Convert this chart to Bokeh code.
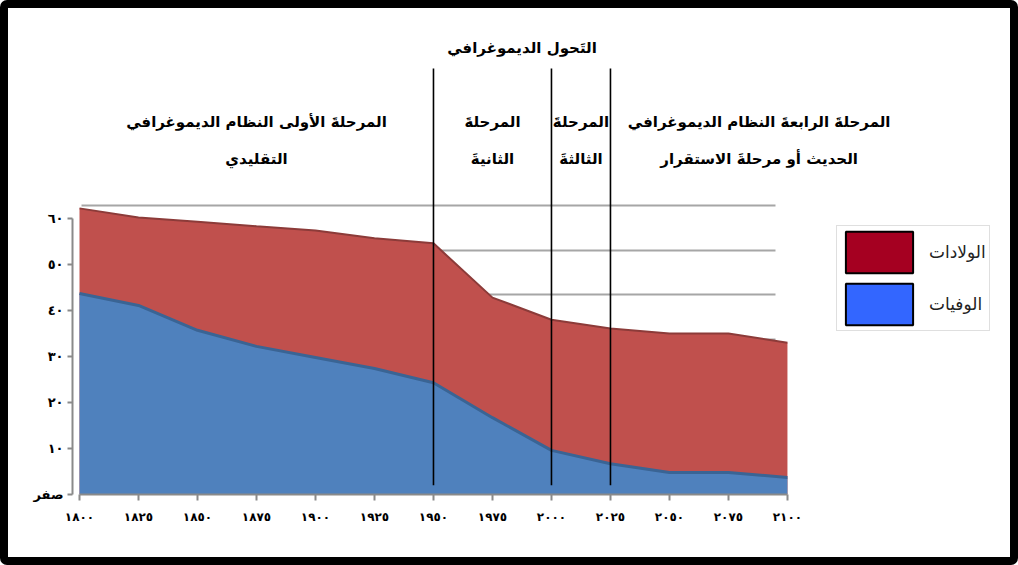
from bokeh.plotting import figure
from bokeh.models import Range1d, FixedTicker, Grid, Legend, LegendItem, Label
from bokeh.embed import file_html
from bokeh.resources import INLINE

# ---- data ----
years = [1800, 1825, 1850, 1875, 1900, 1925, 1950, 1975, 2000, 2025, 2050, 2075, 2100]
births = [62.2, 60.2, 59.3, 58.3, 57.4, 55.7, 54.6, 42.8, 38.0, 36.1, 35.0, 35.0, 33.0]
deaths = [43.7, 41.1, 35.7, 32.2, 29.8, 27.4, 24.3, 16.7, 9.6, 6.7, 4.8, 4.8, 3.7]

x_ticks = [1800, 1825, 1850, 1875, 1900, 1925, 1950, 1975, 2000, 2025, 2050, 2075, 2100]
x_labels = ["١٨٠٠", "١٨٢٥", "١٨٥٠", "١٨٧٥", "١٩٠٠", "١٩٢٥", "١٩٥٠",
            "١٩٧٥", "٢٠٠٠", "٢٠٢٥", "٢٠٥٠", "٢٠٧٥", "٢١٠٠"]
y_ticks = [0, 10, 20, 30, 40, 50, 60]
y_labels = ["صفر", "١٠", "٢٠", "٣٠", "٤٠", "٥٠", "٦٠"]

series_names = ["الولادات", "الوفيات"]
phase_bounds = [1950, 2000, 2025]
title_text = "التَحول الديموغرافي"
phase_texts = [
    ("المرحلةَ الأولى النظام الديموغرافي", "التقليدي"),
    ("المرحلةَ", "الثانيةَ"),
    ("المرحلةَ", "الثالثةَ"),
    ("المرحلةَ الرابعةَ النظام الديموغرافي", "الحديث أو مرحلةَ الاستقرار"),
]
phase_centers = [1875, 1975, 2012.5, 2088]
title_center = 1987.5

FONT = "DejaVu Sans"
NAN = float("nan")

p = figure(width=1018, height=565, output_backend="svg", toolbar_location=None,
           x_range=Range1d(1797.03, 2192.4), y_range=Range1d(0, 100.87),
           min_border_left=72, min_border_right=13, min_border_top=30, min_border_bottom=71)
p.outline_line_color = None
p.background_fill_color = "white"
p.border_fill_color = None
p.xgrid.visible = False
p.ygrid.visible = False
# black picture frame around the whole chart (shows through the transparent border area)
p.styles = {"background-color": "white",
            "box-shadow": "inset 0 0 0 8px black",
            "border-radius": "7px"}

# back-wall grid
p.extra_y_ranges = {"back": Range1d(-4.94, 99.33)}
g = Grid(dimension=1, ticker=FixedTicker(ticks=y_ticks), y_range_name="back",
         cross_bounds=(1801, 2095), grid_line_color="#A6A6A6", grid_line_width=2)
p.add_layout(g)

# areas
p.varea(x=years, y1=0, y2=births, fill_color="#C0504D")
p.line(years, births, line_color="#8C3B39", line_width=2)
p.varea(x=years, y1=0, y2=deaths, fill_color="#4F81BD")
p.line(years, deaths, line_color="#3A6494", line_width=3)

# phase boundaries
p.segment(x0=phase_bounds, y0=2, x1=phase_bounds, y1=92.6, line_color="black", line_width=1.6)

# texts
p.add_layout(Label(x=title_center, y=97.0, text=title_text, text_align="center",
                   text_baseline="middle", text_font=FONT, text_font_size="15px",
                   text_font_style="bold", text_color="black"))
for cx, (l1, l2) in zip(phase_centers, phase_texts):
    p.add_layout(Label(x=cx, y=80.9, text=l1, text_align="center", text_baseline="middle",
                       text_font=FONT, text_font_size="15px", text_font_style="bold",
                       text_color="black"))
    p.add_layout(Label(x=cx, y=73.0, text=l2, text_align="center", text_baseline="middle",
                       text_font=FONT, text_font_size="15px", text_font_style="bold",
                       text_color="black"))

# axes
p.xaxis.ticker = FixedTicker(ticks=x_ticks)
p.xaxis.major_label_overrides = {t: l for t, l in zip(x_ticks, x_labels)}
p.xaxis.bounds = (1800, 2100)
p.yaxis.ticker = FixedTicker(ticks=y_ticks)
p.yaxis.major_label_overrides = {t: l for t, l in zip(y_ticks, y_labels)}
p.yaxis.bounds = (0, 60)
for ax in (p.xaxis, p.yaxis):
    ax.axis_line_color = "#8A8A8A"
    ax.axis_line_width = 2
    ax.major_tick_line_color = "#8A8A8A"
    ax.major_tick_line_width = 2
    ax.minor_tick_line_color = None
    ax.major_tick_in = 0
    ax.major_label_text_font = FONT
    ax.major_label_text_font_style = "bold"
    ax.major_label_text_color = "black"
p.xaxis.major_tick_out = 6
p.xaxis.major_label_standoff = 9
p.xaxis.major_label_text_font_size = "12px"
p.yaxis.major_tick_out = 5
p.yaxis.major_label_standoff = 4
p.yaxis.major_label_text_font_size = "13px"

# legend
r_b = p.quad(left=[NAN], right=[NAN], top=[NAN], bottom=[NAN],
             fill_color="#A50021", line_color="black", line_width=2)
r_d = p.quad(left=[NAN], right=[NAN], top=[NAN], bottom=[NAN],
             fill_color="#3366FF", line_color="black", line_width=2)
legend = Legend(items=[LegendItem(label=series_names[0], renderers=[r_b]),
                       LegendItem(label=series_names[1], renderers=[r_d])],
                location=(764, 163), orientation="vertical",
                glyph_width=84, glyph_height=52, label_standoff=8, label_width=60,
                padding=0, spacing=0, margin=0,
                border_line_color="#BFBFBF", border_line_width=1,
                background_fill_color="white", background_fill_alpha=1,
                label_text_font=FONT, label_text_font_size="17px", label_text_color="#222222")
p.add_layout(legend)

open("out.html", "w").write(file_html(p, INLINE))
